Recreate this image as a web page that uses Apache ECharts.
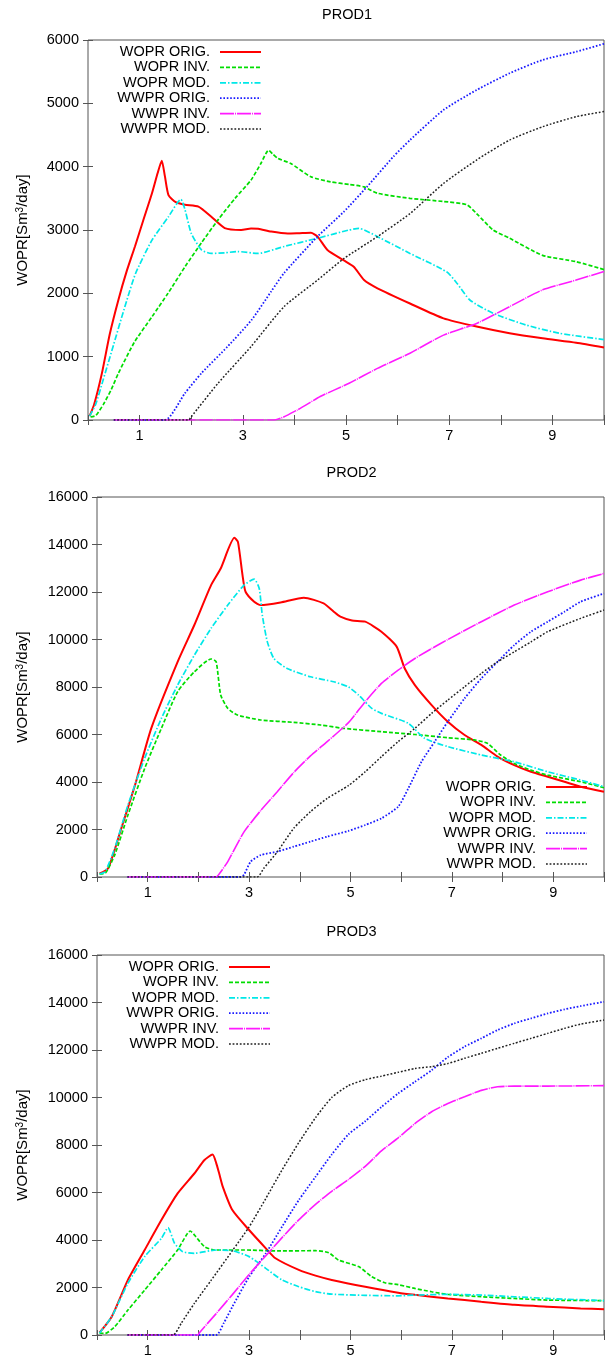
<!DOCTYPE html>
<html>
<head>
<meta charset="utf-8">
<script src="https://cdn.jsdelivr.net/npm/echarts@6/dist/echarts.min.js"></script>
<style>
  html, body { margin: 0; padding: 0; background: #ffffff; }
  #chart { width: 607px; height: 1359px; }
</style>
</head>
<body>
<div id="chart"></div>
<script>
const FONT = "'Liberation Sans', Arial, Helvetica, sans-serif";

const seriesNames = ['WOPR ORIG.', 'WOPR INV.', 'WOPR MOD.', 'WWPR ORIG.', 'WWPR INV.', 'WWPR MOD.'];
const panelTitles = ['PROD1', 'PROD2', 'PROD3'];
const yAxisTitle = 'WOPR[Sm{sup|3}/day]';

// ---- PROD1: [time, rate] ----
const prod1WoprOrig = [[0.03,60],[0.12,250],[0.27,740],[0.42,1350],[0.59,1900],[0.75,2350],[0.91,2740],[1.07,3150],[1.24,3580],[1.35,3900],[1.43,4095],[1.49,3850],[1.56,3550],[1.7,3440],[1.88,3400],[2.14,3370],[2.39,3210],[2.65,3030],[2.97,3000],[3.16,3025],[3.3,3020],[3.55,2975],[3.87,2945],[4.1,2950],[4.32,2955],[4.45,2895],[4.64,2685],[4.96,2520],[5.15,2420],[5.35,2210],[5.61,2080],[6.24,1840],[6.89,1605],[7.53,1475],[8.17,1370],[8.81,1290],[9.46,1220],[10,1145]];
const prod1WoprInv = [[0.05,50],[0.15,70],[0.3,250],[0.45,480],[0.59,740],[0.9,1230],[1.24,1630],[1.55,2000],[1.88,2420],[2.2,2800],[2.52,3160],[2.85,3500],[3.16,3790],[3.35,4050],[3.5,4260],[3.58,4200],[3.68,4130],[3.93,4050],[4.32,3840],[4.7,3760],[5.06,3720],[5.35,3680],[5.61,3580],[6.24,3500],[6.89,3450],[7.34,3400],[7.53,3260],[7.85,3000],[8.17,2870],[8.81,2600],[9.46,2500],[10,2375]];
const prod1WoprMod = [[0.03,60],[0.15,250],[0.3,650],[0.5,1200],[0.7,1750],[0.92,2310],[1.24,2840],[1.56,3210],[1.8,3485],[1.88,3320],[2.0,2950],[2.2,2685],[2.39,2630],[2.65,2640],[2.9,2660],[3.29,2630],[3.8,2740],[4.45,2870],[5.06,3000],[5.25,3025],[5.61,2895],[6.24,2630],[6.95,2340],[7.15,2160],[7.4,1895],[7.85,1685],[8.49,1500],[9.13,1370],[10,1270]];
const prod1WwprOrig = [[0.5,0],[1.49,0],[1.88,425],[2.2,740],[2.7,1155],[3.17,1580],[3.55,2030],[3.8,2320],[4.44,2890],[4.96,3290],[5.41,3685],[5.92,4160],[6.24,4420],[6.89,4895],[7.53,5210],[8.17,5475],[8.81,5685],[9.46,5815],[10,5940]];
const prod1WwprInv = [[0.5,0],[3.61,0],[4.06,160],[4.5,370],[5.06,580],[5.61,815],[6.24,1055],[6.89,1340],[7.53,1525],[8.17,1790],[8.81,2055],[9.46,2210],[10,2345]];
const prod1WwprMod = [[0.5,0],[1.95,0],[2.0,50],[2.52,580],[3.16,1160],[3.8,1790],[4.45,2210],[4.96,2550],[5.61,2895],[6.24,3260],[6.89,3735],[7.53,4105],[8.17,4420],[8.81,4630],[9.46,4790],[10,4870]];

// ---- PROD2 ----
const prod2WoprOrig = [[0.05,150],[0.22,365],[0.48,2050],[0.75,3870],[1.07,6260],[1.59,9060],[1.92,10610],[2.25,12290],[2.44,12990],[2.71,14280],[2.78,14110],[2.87,12710],[2.93,12010],[3.1,11590],[3.23,11450],[3.62,11560],[4.08,11760],[4.47,11520],[4.67,11170],[4.8,10960],[5.03,10800],[5.29,10750],[5.61,10330],[5.91,9700],[6.07,8780],[6.27,8080],[6.6,7240],[6.92,6540],[7.25,5980],[7.58,5560],[7.9,5070],[8.23,4710],[8.56,4430],[8.89,4220],[9.22,4010],[9.54,3800],[10,3590]];
const prod2WoprInv = [[0.05,130],[0.16,154],[0.35,930],[0.61,2610],[0.94,4570],[1.27,6260],[1.59,7800],[1.92,8640],[2.25,9180],[2.35,9060],[2.44,7660],[2.58,7100],[2.77,6820],[3.23,6610],[3.88,6510],[4.41,6400],[4.86,6260],[5.61,6120],[6.27,6000],[6.92,5865],[7.44,5770],[7.7,5630],[7.96,5135],[8.23,4780],[8.56,4500],[8.89,4290],[9.54,4010],[10,3760]];
const prod2WoprMod = [[0.05,130],[0.16,220],[0.35,1210],[0.61,3030],[0.94,5000],[1.27,6680],[1.59,8080],[1.92,9340],[2.25,10470],[2.58,11450],[2.9,12290],[3.1,12540],[3.2,12150],[3.26,11030],[3.36,9900],[3.49,9200],[3.75,8780],[4.21,8430],[4.67,8220],[4.96,8000],[5.16,7660],[5.42,7100],[5.61,6890],[6.14,6470],[6.46,5840],[6.92,5490],[7.58,5135],[8.23,4850],[8.89,4430],[9.54,4080],[10,3800]];
const prod2WwprOrig = [[0.6,0],[2.84,0],[2.9,100],[3.03,645],[3.23,925],[3.56,1070],[3.88,1280],[4.21,1490],[4.54,1700],[4.96,1940],[5.29,2190],[5.61,2470],[5.94,2960],[6.14,3730],[6.4,4850],[6.66,5700],[6.92,6540],[7.25,7520],[7.58,8360],[7.9,9060],[8.23,9765],[8.56,10330],[8.89,10750],[9.22,11170],[9.54,11590],[10,11940]];
const prod2WwprInv = [[0.6,0],[2.35,0],[2.4,100],[2.58,650],[2.9,1900],[3.23,2800],[3.56,3600],[3.88,4400],[4.21,5100],[4.54,5700],[4.96,6500],[5.29,7380],[5.61,8150],[5.94,8710],[6.27,9200],[6.6,9620],[6.92,10000],[7.58,10750],[8.23,11450],[8.89,12010],[9.54,12500],[10,12780]];
const prod2WwprMod = [[0.6,0],[3.16,0],[3.29,365],[3.56,1070],[3.88,2050],[4.21,2750],[4.54,3310],[4.96,3850],[5.29,4430],[5.61,5065],[5.94,5700],[6.27,6260],[6.6,6890],[6.92,7450],[7.25,8010],[7.58,8570],[7.9,9060],[8.23,9480],[8.56,9900],[8.89,10330],[9.54,10890],[10,11240]];

// ---- PROD3 ----
const prod3WoprOrig = [[0.05,100],[0.29,770],[0.61,2320],[0.94,3580],[1.27,4840],[1.59,5960],[1.92,6800],[2.12,7370],[2.28,7600],[2.35,7250],[2.41,6800],[2.48,6250],[2.67,5260],[3.0,4420],[3.33,3650],[3.52,3230],[3.98,2740],[4.31,2500],[4.63,2320],[5.29,2030],[5.94,1780],[6.27,1690],[6.92,1540],[7.58,1400],[8.23,1270],[8.89,1190],[9.54,1120],[10,1080]];
const prod3WoprInv = [[0.05,80],[0.16,70],[0.35,350],[0.61,1050],[0.94,1890],[1.27,2740],[1.59,3580],[1.84,4380],[1.95,4140],[2.12,3720],[2.31,3580],[2.9,3580],[3.56,3540],[4.31,3550],[4.57,3465],[4.76,3160],[5.16,2880],[5.42,2455],[5.68,2200],[5.94,2120],[6.27,1960],[6.6,1820],[6.92,1710],[7.58,1610],[8.23,1540],[8.89,1470],[10,1445]];
const prod3WoprMod = [[0.05,80],[0.29,770],[0.61,2180],[0.94,3300],[1.27,4070],[1.4,4520],[1.53,3860],[1.69,3510],[1.92,3440],[2.35,3580],[2.67,3550],[3.0,3300],[3.33,2806],[3.65,2315],[3.98,2034],[4.31,1824],[4.63,1720],[5.29,1670],[5.94,1650],[6.27,1680],[6.92,1710],[7.58,1680],[8.23,1610],[8.89,1540],[10,1445]];
const prod3WwprOrig = [[0.6,0],[2.35,0],[2.5,500],[2.67,1190],[3.0,2450],[3.33,3440],[3.65,4560],[3.98,5680],[4.31,6660],[4.63,7600],[4.96,8450],[5.29,9000],[5.61,9600],[5.94,10170],[6.27,10660],[6.6,11150],[6.92,11700],[7.25,12140],[7.58,12490],[7.9,12840],[8.23,13120],[8.56,13330],[8.89,13540],[9.22,13710],[9.54,13850],[10,14030]];
const prod3WwprInv = [[0.6,0],[1.99,0],[2.02,100],[2.35,900],[2.67,1700],[3.0,2550],[3.4,3500],[3.65,4100],[3.98,4850],[4.31,5500],[4.63,6050],[4.96,6550],[5.29,7100],[5.61,7750],[5.94,8300],[6.27,8900],[6.6,9400],[6.92,9750],[7.25,10030],[7.58,10300],[7.9,10450],[8.23,10480],[8.89,10480],[10,10500]];
const prod3WwprMod = [[0.6,0],[1.5,0],[1.66,490],[1.92,1330],[2.25,2300],[2.67,3550],[3.0,4550],[3.33,5750],[3.65,6950],[3.98,8100],[4.31,9150],[4.63,10000],[4.96,10500],[5.29,10750],[5.61,10900],[5.94,11060],[6.27,11220],[6.6,11300],[6.92,11430],[7.25,11650],[7.58,11860],[7.9,12070],[8.23,12280],[8.56,12490],[8.89,12700],[9.22,12910],[9.54,13090],[10,13260]];

const panelData = [
  [prod1WoprOrig, prod1WoprInv, prod1WoprMod, prod1WwprOrig, prod1WwprInv, prod1WwprMod],
  [prod2WoprOrig, prod2WoprInv, prod2WoprMod, prod2WwprOrig, prod2WwprInv, prod2WwprMod],
  [prod3WoprOrig, prod3WoprInv, prod3WoprMod, prod3WwprOrig, prod3WwprInv, prod3WwprMod]
];

// line look for each of the six curves
const lineLooks = [
  { color: '#ff0000', width: 2.0, type: 'solid' },
  { color: '#00dd00', width: 1.7, type: [4, 2] },
  { color: '#00e8e8', width: 1.7, type: [6, 2, 1.5, 2] },
  { color: '#1a1aff', width: 1.8, type: [1.6, 1.8] },
  { color: '#ff1aff', width: 1.6, type: [14, 1, 1, 1] },
  { color: '#202020', width: 1.5, type: [1.8, 1.8] }
];

// plot frames
const panels = [
  { left: 88, top: 40, yMax: 6000, yStep: 1000, nameGap: 58, titleTop: 7,
    legend: { right: 345, top: 44.5 } },
  { left: 97, top: 497, yMax: 16000, yStep: 2000, nameGap: 67, titleTop: 465,
    legend: { right: 19, top: 779.5 } },
  { left: 97, top: 955, yMax: 16000, yStep: 2000, nameGap: 67, titleTop: 924,
    legend: { right: 336, top: 959.5 } }
];

const FRAME = '#555555';
const labelText = { color: '#000', fontFamily: FONT, fontSize: 14.5 };

const grid = [], xAxis = [], yAxis = [], series = [], legend = [], title = [];

panels.forEach((p, i) => {
  grid.push({ left: p.left, top: p.top, right: 1, height: 380, show: true,
    borderColor: FRAME, borderWidth: 1, backgroundColor: 'transparent' });

  const tick = { show: true, inside: true, length: 5, lineStyle: { color: FRAME, width: 1 } };
  // bottom x axis with labels, top x axis mirror ticks
  xAxis.push({ type: 'value', gridIndex: i, min: 0, max: 10, interval: 1, position: 'bottom',
    axisLine: { show: false }, axisTick: tick, splitLine: { show: false },
    axisLabel: Object.assign({ margin: 8, formatter: v => (v % 2 === 1 ? String(v) : '') }, labelText) });
  xAxis.push({ type: 'value', gridIndex: i, min: 0, max: 10, interval: 1, position: 'top',
    axisLine: { show: false }, axisTick: tick, splitLine: { show: false }, axisLabel: { show: false } });

  yAxis.push({ type: 'value', gridIndex: i, min: 0, max: p.yMax, interval: p.yStep, position: 'left',
    axisLine: { show: false }, axisTick: tick, splitLine: { show: false },
    axisLabel: Object.assign({ margin: 9, formatter: v => String(v) }, labelText),
    name: yAxisTitle, nameLocation: 'middle', nameRotate: 90, nameGap: p.nameGap,
    nameTextStyle: { color: '#000', fontFamily: FONT, fontSize: 15,
      rich: { sup: { fontSize: 10, lineHeight: 10, verticalAlign: 'top', fontFamily: FONT, color: '#000' } } } });
  yAxis.push({ type: 'value', gridIndex: i, min: 0, max: p.yMax, interval: p.yStep, position: 'right',
    axisLine: { show: false }, axisTick: tick, splitLine: { show: false }, axisLabel: { show: false } });

  title.push({ text: panelTitles[i], left: p.left + (607 - 1 - p.left) / 2, top: p.titleTop,
    textAlign: 'center', padding: 0,
    textStyle: { color: '#000', fontFamily: FONT, fontSize: 14.5, fontWeight: 'normal' } });

  legend.push({ orient: 'vertical', align: 'right', right: p.legend.right, top: p.legend.top,
    padding: 0, itemWidth: 41, itemHeight: 15, itemGap: 0.4, selectedMode: false,
    data: seriesNames.slice(),
    itemStyle: { opacity: 0 },
    lineStyle: { width: 'inherit' },
    textStyle: { color: '#000', fontFamily: FONT, fontSize: 14.5, lineHeight: 15, padding: [0, 5, 0, 0] } });

  panelData[i].forEach((pts, s) => {
    const look = lineLooks[s];
    series.push({ type: 'line', name: seriesNames[s], xAxisIndex: 2 * i, yAxisIndex: 2 * i,
      data: pts, showSymbol: false, symbol: 'none', smooth: 0.2, clip: true,
      color: look.color,
      lineStyle: { color: look.color, width: look.width, type: look.type } });
  });
});

const chart = echarts.init(document.getElementById('chart'), null, { renderer: 'canvas' });
chart.setOption({ animation: false, backgroundColor: '#ffffff', title, grid, xAxis, yAxis, legend, series });
</script>
</body>
</html>
